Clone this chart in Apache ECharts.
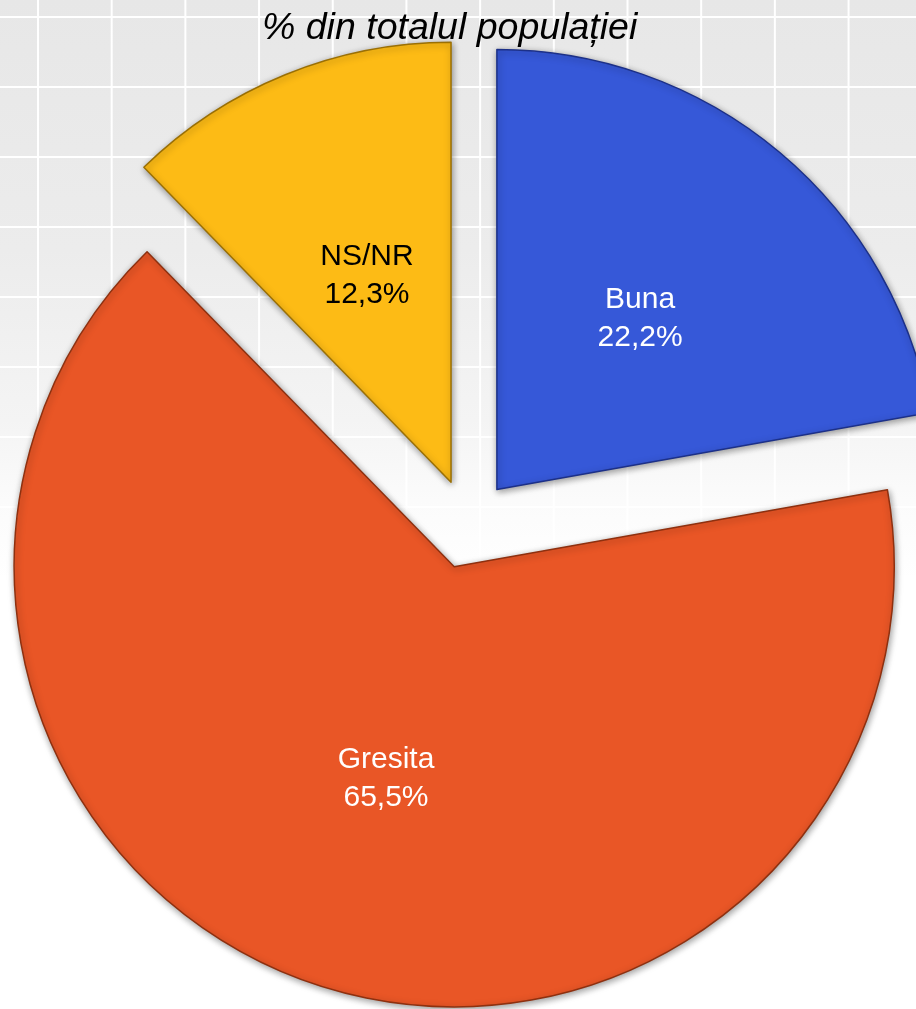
<!DOCTYPE html>
<html>
<head>
<meta charset="utf-8">
<title>% din totalul populației</title>
<script src="https://cdn.jsdelivr.net/npm/echarts@6/dist/echarts.min.js"></script>
<style>
  html, body {
    margin: 0;
    padding: 0;
    width: 916px;
    height: 1009px;
    overflow: hidden;
    background: #fff;
  }
  /* grid background, fading to white toward the bottom */
  #bg {
    position: absolute;
    left: 0;
    top: 0;
    width: 916px;
    height: 1009px;
    background-image:
      linear-gradient(to right, #fff 2px, transparent 2px),
      linear-gradient(to bottom, #fff 2px, transparent 2px),
      linear-gradient(to bottom, #e7e7e7 0, #ececec 250px, #f4f4f4 420px, #fbfbfb 500px, #fff 580px);
    background-size: 73.7px 70px, 73.7px 70px, 100% 100%;
    background-position: 37px 16px, 37px 16px, 0 0;
    background-repeat: repeat, repeat, no-repeat;
  }
  #chart {
    position: absolute;
    left: 0;
    top: 0;
    width: 916px;
    height: 1009px;
  }
</style>
</head>
<body>
<div id="bg"></div>
<div id="chart"></div>
<script>
  var titleText = '% din totalul populației'
  var categories = ['Buna', 'Gresita', 'NS/NR']
  var values = [22.2, 65.5, 12.3]
  var colors = ['#3658D8', '#E95626', '#FDBB15']
  var edgeColors = ['#1c3088', '#8e300f', '#9a6f04']
  var labelColors = ['#ffffff', '#ffffff', '#000000']
  var offsets = [41, 49, 41]

  var chart = echarts.init(document.getElementById('chart'), null, { renderer: 'canvas' })

  var pieData = categories.map(function(name, i) {
    return {
      name: name,
      value: values[i],
      selected: true,
      selectedOffset: offsets[i],
      itemStyle: {
        color: colors[i],
        borderColor: edgeColors[i],
        borderWidth: 1.5,
        shadowBlur: 7,
        shadowColor: 'rgba(0,0,0,0.4)',
        shadowOffsetX: 1,
        shadowOffsetY: 2
      },
      label: { color: labelColors[i] }
    }
  })

  chart.setOption({
    backgroundColor: 'transparent',
    animation: false,
    title: {
      text: titleText,
      left: 257,
      top: 5,
      textStyle: {
        fontFamily: 'Liberation Sans, Arial, sans-serif',
        fontStyle: 'italic',
        fontWeight: 'normal',
        fontSize: 37.5,
        color: '#000'
      }
    },
    series: [{
      type: 'pie',
      center: [468, 524],
      radius: [0, 440],
      startAngle: 90,
      clockwise: true,
      selectedMode: 'multiple',
      selectedOffset: 45,
      avoidLabelOverlap: false,
      label: {
        show: true,
        position: 'inner',
        fontFamily: 'Liberation Sans, Arial, sans-serif',
        fontSize: 30,
        lineHeight: 38,
        formatter: function(p) {
          return p.name + '\n' + p.value.toFixed(1).replace('.', ',') + '%'
        }
      },
      labelLine: { show: false },
      emphasis: { disabled: true },
      data: pieData
    }]
  })
</script>
</body>
</html>
